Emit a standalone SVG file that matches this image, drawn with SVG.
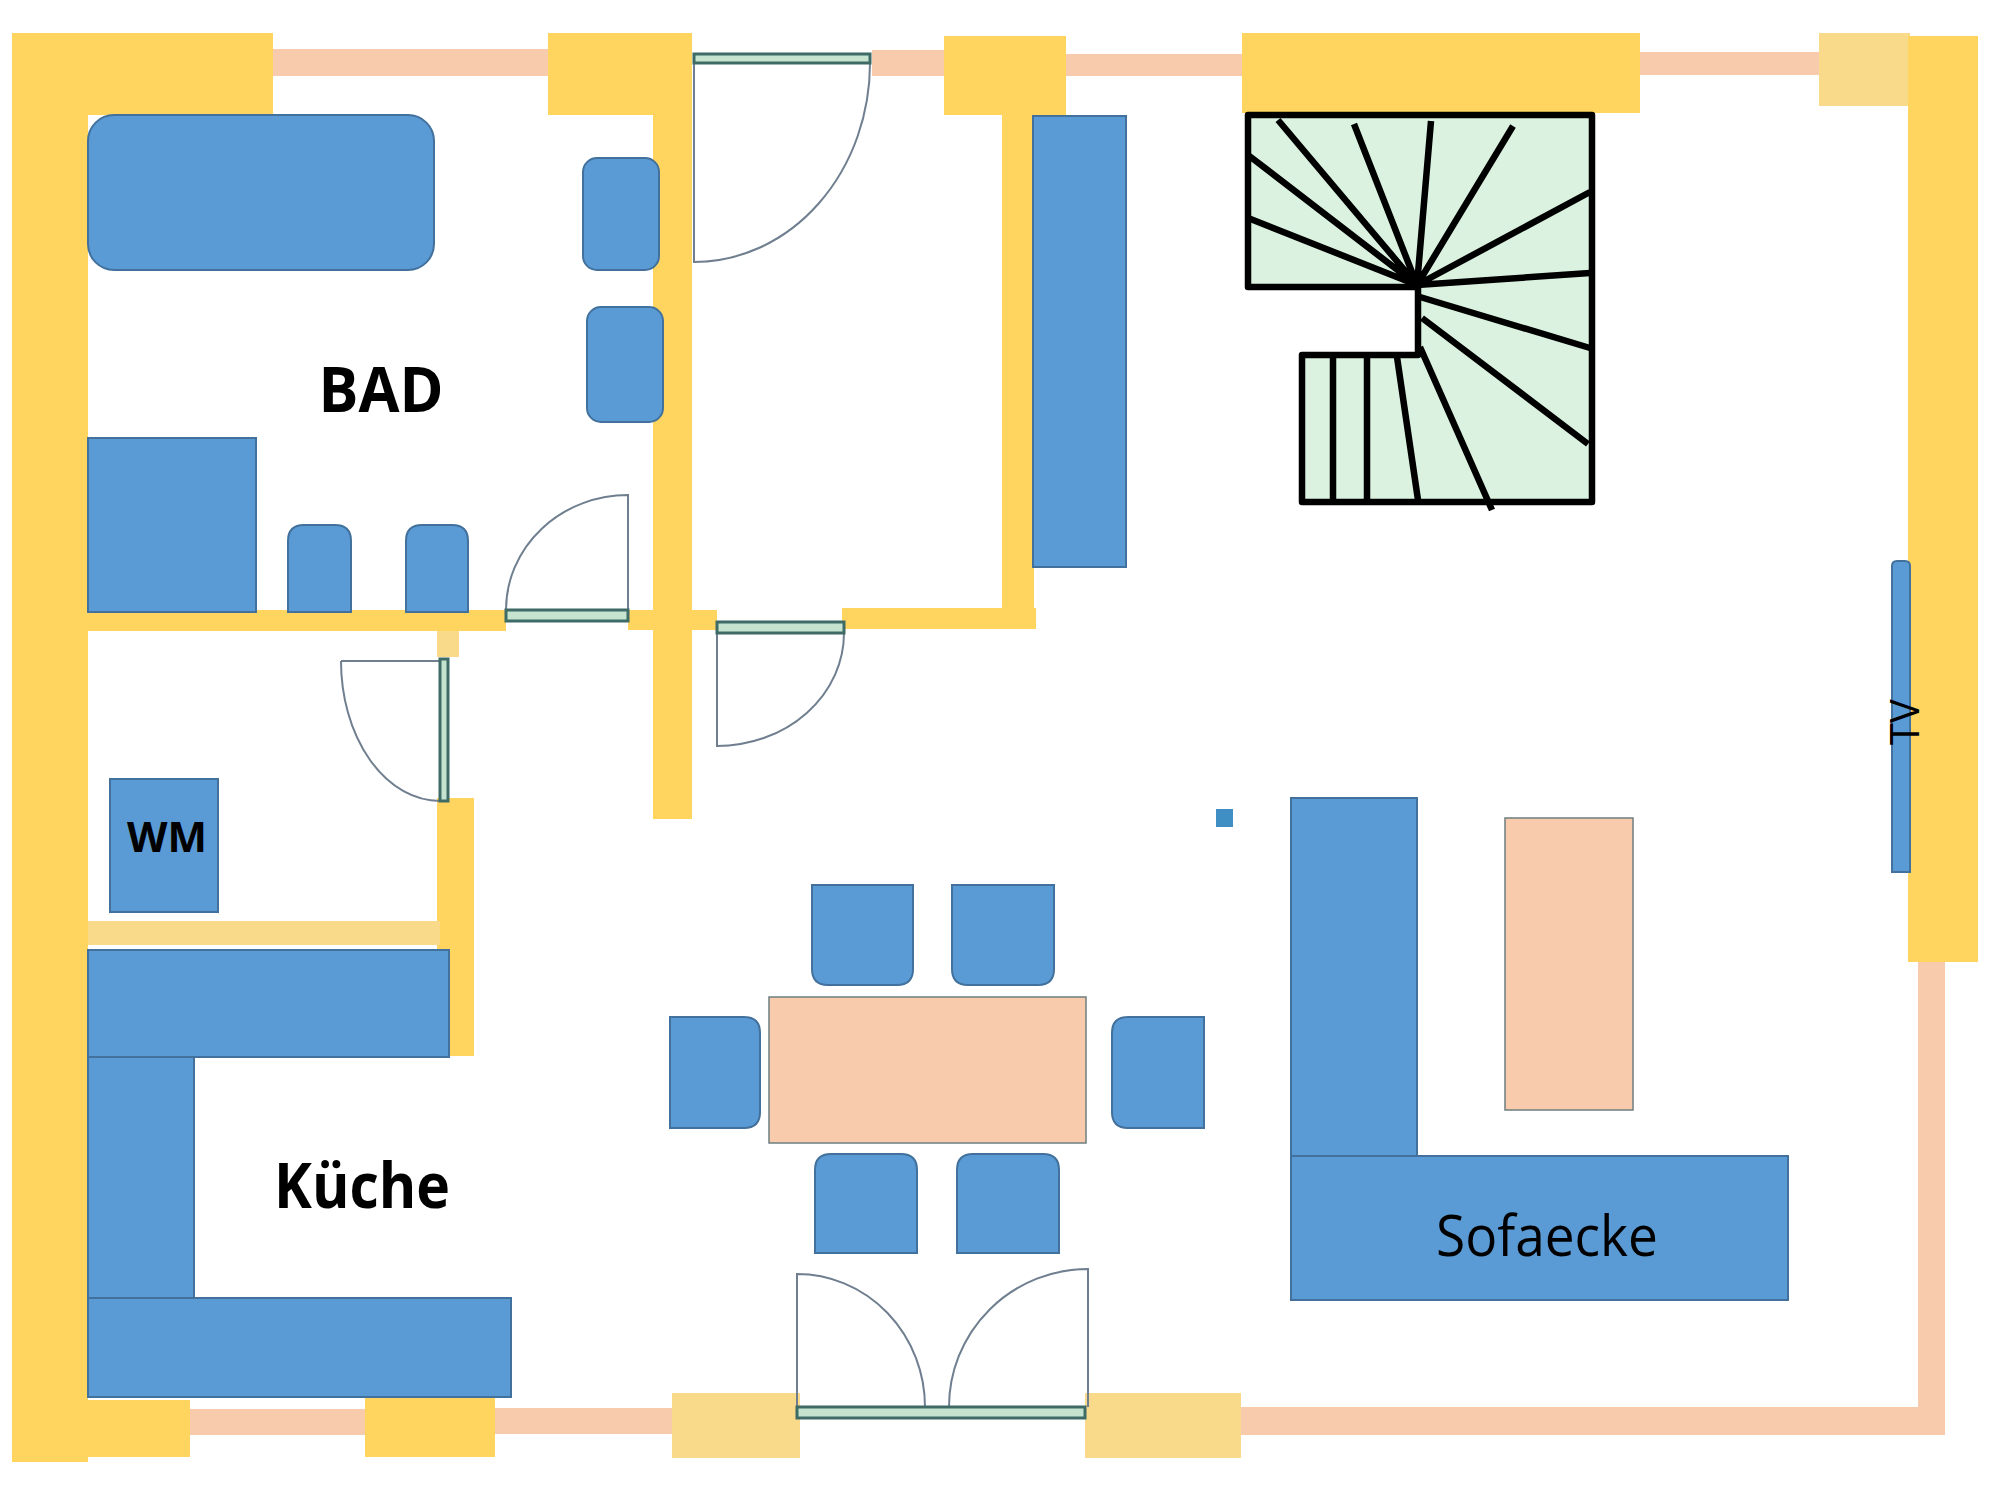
<svg xmlns="http://www.w3.org/2000/svg" width="2000" height="1500" viewBox="0 0 2000 1500">
<style>
.y{fill:#FFD45F}.p{fill:#F8DA8A}.k{fill:#F8CBAD}
.b{fill:#5B9BD5;stroke:#41719C;stroke-width:2}
.t{fill:#F8CBAD;stroke:#6E7F80;stroke-width:1.5}
.w{fill:#C5E3CF;stroke:#3F6B66;stroke-width:3}
.d{fill:none;stroke:#6F7F8F;stroke-width:2}
.s{fill:none;stroke:#000;stroke-width:6.5}
.l{font-family:"Open Sans","Noto Sans",sans-serif;fill:#000}
</style>
<rect width="2000" height="1500" fill="#fff"/>
<g id="walls">
<rect class="k" x="273" y="49" width="275" height="27"/>
<rect class="k" x="872" y="50" width="72" height="26"/>
<rect class="k" x="1066" y="54" width="176" height="22"/>
<rect class="k" x="1640" y="52" width="179" height="23"/>
<rect class="k" x="1918" y="962" width="27" height="473"/>
<rect class="k" x="1241" y="1407" width="704" height="28"/>
<rect class="k" x="495" y="1408" width="177" height="26"/>
<rect class="k" x="190" y="1409" width="175" height="26"/>
<rect class="y" x="12" y="33" width="76" height="1429"/>
<rect class="y" x="12" y="33" width="261" height="82"/>
<rect class="y" x="548" y="33" width="144" height="82"/>
<rect class="y" x="653" y="115" width="39" height="704"/>
<rect class="y" x="944" y="36" width="122" height="79"/>
<rect class="y" x="1002" y="115" width="32" height="513"/>
<rect class="y" x="842" y="608" width="194" height="21"/>
<rect class="y" x="1242" y="33" width="398" height="80"/>
<rect class="p" x="1819" y="33" width="91" height="73"/>
<rect class="y" x="1908" y="36" width="70" height="926"/>
<rect class="y" x="88" y="610" width="418" height="21"/>
<rect class="y" x="628" y="610" width="89" height="20"/>
<rect class="p" x="437" y="631" width="22" height="26"/>
<rect class="y" x="437" y="798" width="37" height="258"/>
<rect class="p" x="88" y="921" width="352" height="24"/>
<rect class="y" x="88" y="1400" width="102" height="57"/>
<rect class="y" x="365" y="1398" width="130" height="59"/>
<rect class="p" x="672" y="1393" width="128" height="65"/>
<rect class="p" x="1085" y="1393" width="156" height="65"/>
</g>
<g id="door-entrance">
<path class="d" d="M870 63A176 199 0 0 1 694 262V63"/>
<rect class="w" x="694" y="54" width="176" height="9"/>
</g>
<g id="door-bad">
<path class="d" d="M506 610A122 115 0 0 1 628 495V610"/>
<rect class="w" x="506" y="610" width="122" height="11"/>
</g>
<g id="door-hall">
<path class="d" d="M844 633A127 113 0 0 1 717 746V633"/>
<rect class="w" x="717" y="622" width="127" height="11"/>
</g>
<g id="door-wm">
<path class="d" d="M341 661A99 140 0 0 0 440 801V661H341"/>
<rect class="w" x="440" y="659" width="8" height="142"/>
</g>
<g id="door-terrace">
<path class="d" d="M797 1407V1274A128 133 0 0 1 925 1407"/>
<path class="d" d="M1088 1407V1269A139 138 0 0 0 949 1407"/>
<rect class="w" x="797" y="1407" width="288" height="11"/>
</g>
<g id="stairs">
<path d="M1248 115H1592V502H1302V355H1418V287H1248Z" fill="#DAF2DF" stroke="#000" stroke-width="6.5" stroke-linejoin="round"/>
<path class="s" d="M1278 120L1417 285M1354 124L1417 285M1431 121L1417 285M1513 126L1417 285M1590 192L1417 285M1590 273L1417 285M1248 155L1417 285M1248 218L1417 285M1420 297L1590 348M1422 318L1588 444M1420 347L1492 510M1397 357L1418 500M1367 357V500M1333 357V500"/>
</g>
<g id="bathtub"><rect class="b" x="88" y="115" width="346" height="155" rx="26"/></g>
<g id="sink-1"><rect class="b" x="583" y="158" width="76" height="112" rx="14"/></g>
<g id="sink-2"><rect class="b" x="587" y="307" width="76" height="115" rx="14"/></g>
<g id="shower"><rect class="b" x="88" y="438" width="168" height="174"/></g>
<g id="toilet-1"><path class="b" d="M288 612V541Q288 525 304 525H335Q351 525 351 541V612Z"/></g>
<g id="toilet-2"><path class="b" d="M406 612V541Q406 525 422 525H452Q468 525 468 541V612Z"/></g>
<g id="wardrobe"><rect class="b" x="1033" y="116" width="93" height="451"/></g>
<g id="wm"><rect class="b" x="110" y="779" width="108" height="133"/><text class="l" x="167" y="852" font-size="42" font-weight="700" text-anchor="middle" textLength="80" lengthAdjust="spacingAndGlyphs">WM</text></g>
<g id="kitchen">
<rect class="b" x="88" y="950" width="361" height="107"/>
<rect class="b" x="88" y="1057" width="106" height="241"/>
<rect class="b" x="88" y="1298" width="423" height="99"/>
</g>
<g id="chair-1"><path class="b" d="M812 885H913V969Q913 985 897 985H828Q812 985 812 969Z"/></g>
<g id="chair-2"><path class="b" d="M952 885H1054V969Q1054 985 1038 985H968Q952 985 952 969Z"/></g>
<g id="chair-3"><path class="b" d="M670 1017H744Q760 1017 760 1033V1112Q760 1128 744 1128H670Z"/></g>
<g id="chair-4"><path class="b" d="M1204 1017H1128Q1112 1017 1112 1033V1112Q1112 1128 1128 1128H1204Z"/></g>
<g id="chair-5"><path class="b" d="M815 1253V1170Q815 1154 831 1154H901Q917 1154 917 1170V1253Z"/></g>
<g id="chair-6"><path class="b" d="M957 1253V1170Q957 1154 973 1154H1043Q1059 1154 1059 1170V1253Z"/></g>
<g id="dining-table"><rect class="t" x="769" y="997" width="317" height="146"/></g>
<g id="sofa">
<rect class="b" x="1291" y="798" width="126" height="358"/>
<rect class="b" x="1291" y="1156" width="497" height="144"/>
<text class="l" x="1547" y="1256" font-size="56" text-anchor="middle" textLength="222" lengthAdjust="spacingAndGlyphs">Sofaecke</text>
</g>
<g id="coffee-table"><rect class="t" x="1505" y="818" width="128" height="292"/></g>
<g id="post"><rect x="1216" y="809" width="17" height="18" fill="#3F8FC4"/></g>
<g id="tv">
<path class="b" d="M1892 872V566Q1892 561 1897 561H1905Q1910 561 1910 566V872Z"/>
<text class="l" transform="translate(1919 722) rotate(-90)" font-size="40" text-anchor="middle">TV</text>
</g>
<g id="labels">
<text class="l" x="381" y="412" font-size="62" font-weight="700" text-anchor="middle" textLength="125" lengthAdjust="spacingAndGlyphs">BAD</text>
<text class="l" x="362" y="1208" font-size="62" font-weight="700" text-anchor="middle" textLength="176" lengthAdjust="spacingAndGlyphs">Küche</text>
</g>
</svg>
